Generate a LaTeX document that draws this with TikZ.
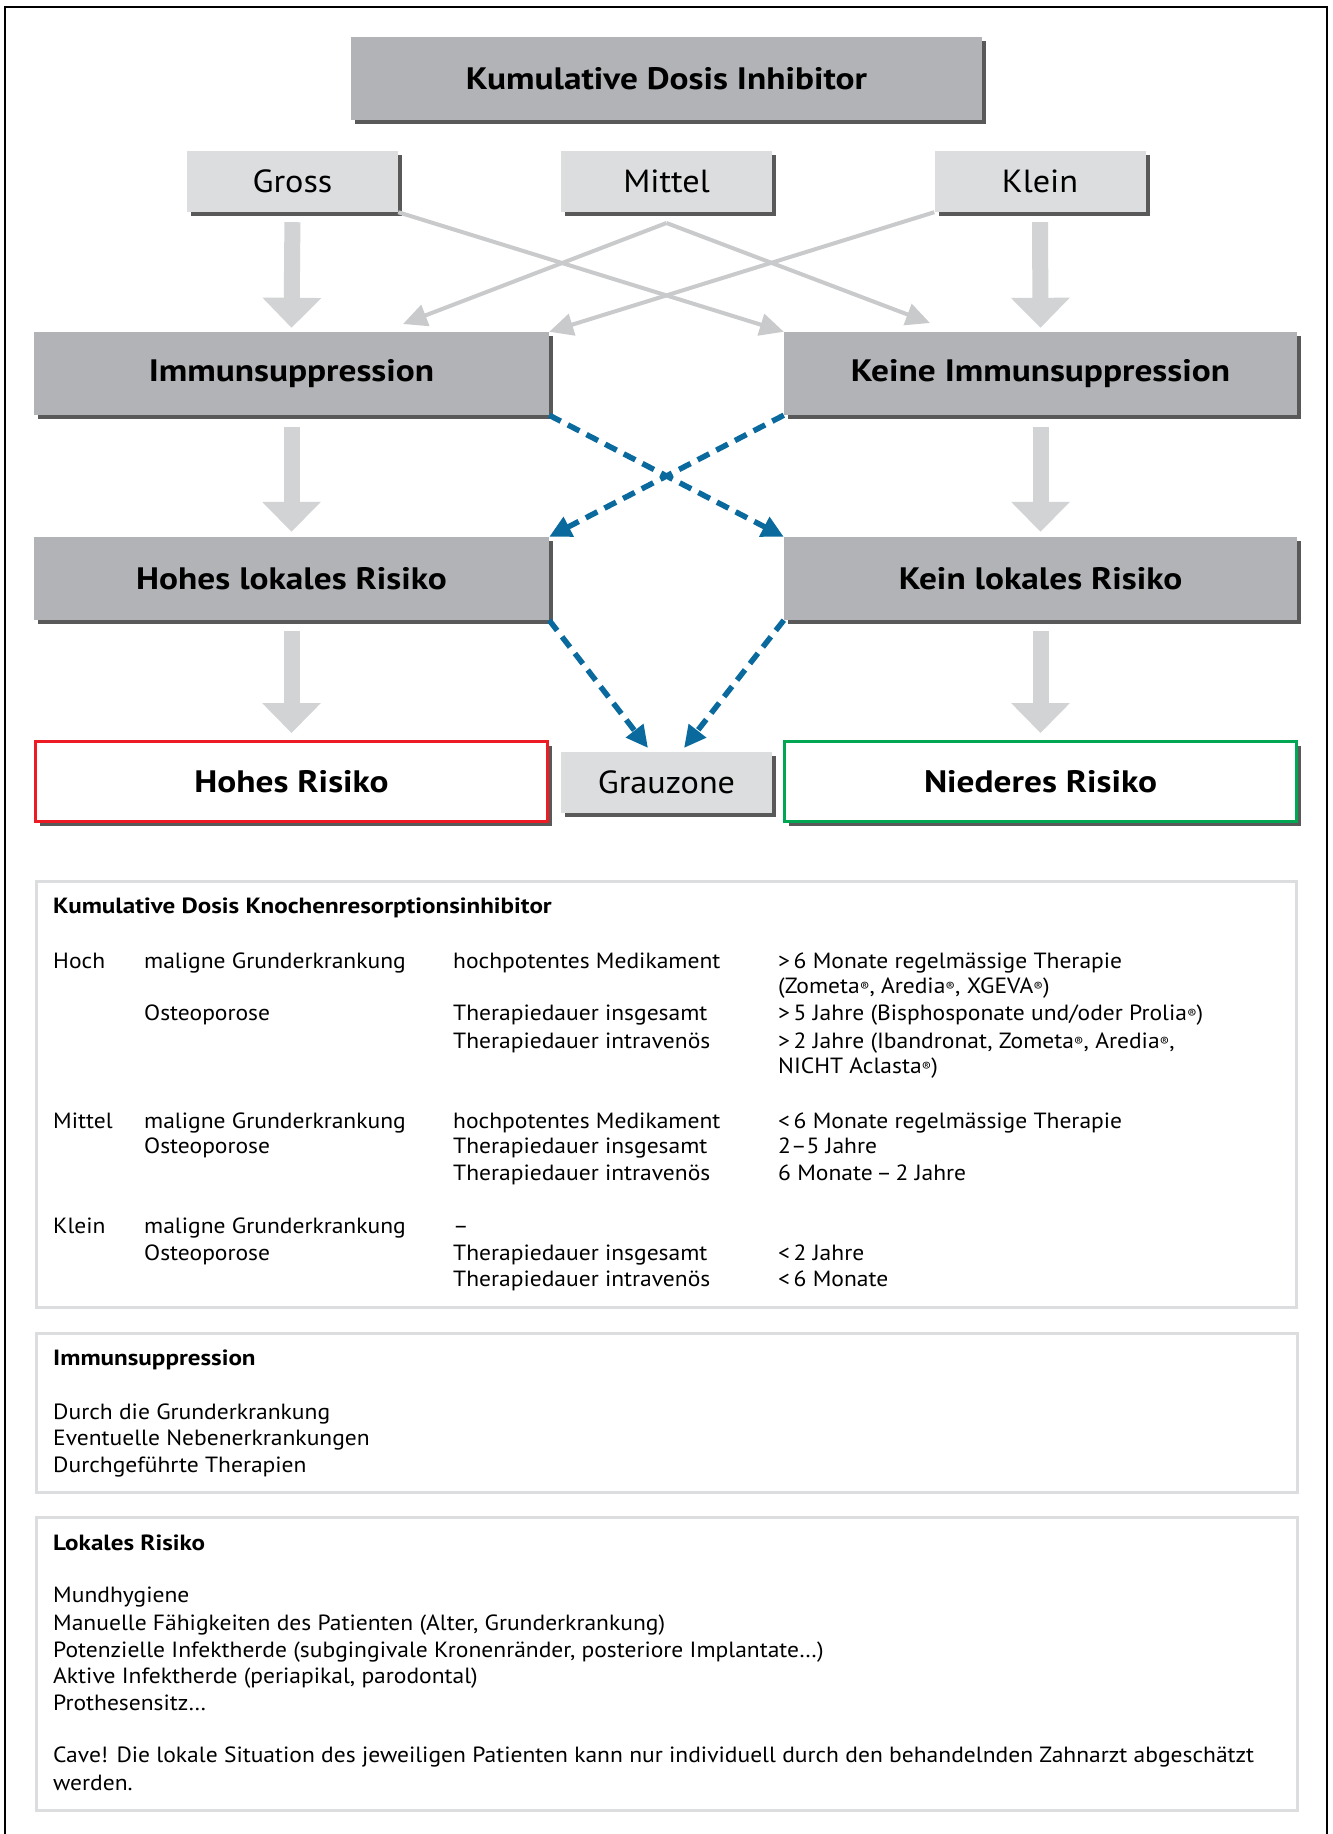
\documentclass[tikz,border=0pt]{standalone}
\usepackage{fontspec}
\setmainfont{PT Sans}[FakeStretch=1.07, BoldFeatures={FakeStretch=1.14}]
\usetikzlibrary{arrows.meta,shadows}
\definecolor{boxdark}{HTML}{B1B3B6}
\definecolor{boxlight}{HTML}{DCDDDF}
\definecolor{arrowgray}{HTML}{D1D3D4}
\definecolor{linegray}{HTML}{C9CACC}
\definecolor{dashblue}{HTML}{0A6A9E}
\definecolor{riskred}{HTML}{ED1C24}
\definecolor{riskgreen}{HTML}{00A651}
\definecolor{legendframe}{HTML}{DCDDDE}
\newcommand{\regm}{\raisebox{2pt}{\fontsize{13}{13}\selectfont ®}}
\begin{document}
\begin{tikzpicture}[x=1pt,y=-1pt,
  shadowed/.style={general shadow={fill=black!65, shadow xshift=4pt, shadow yshift=-4pt}},
  darkbox/.style={shadowed, fill=boxdark, inner sep=0, minimum width=515pt, minimum height=83pt,
    font=\fontsize{31}{36}\selectfont\bfseries},
  lightbox/.style={shadowed, fill=boxlight, inner sep=0, minimum width=211pt, minimum height=61pt,
    font=\fontsize{32}{36}\selectfont},
  riskbox/.style={shadowed, fill=white, line width=3pt, inner sep=0, minimum width=512pt, minimum height=80pt,
    font=\fontsize{31}{36}\selectfont\bfseries},
  blockarrow/.style={draw=arrowgray, line width=16pt, -{Triangle[length=30pt,width=57pt]}},
  thinarrow/.style={draw=linegray, line width=4pt, -{Triangle[length=24pt,width=22pt]}},
  dasharrow/.style={draw=dashblue, line width=5.5pt, dash pattern=on 13pt off 8pt, -{Triangle[length=22pt,width=21pt]}},
  legendbox/.style={draw=legendframe, line width=3pt},
  lt/.style={anchor=west, inner sep=0, text height=16pt, text depth=5pt, font=\fontsize{22}{27}\selectfont},
  ltb/.style={lt, font=\fontsize{22}{27}\selectfont\bfseries}
]
\useasboundingbox (0,0) rectangle (1333,1834);
\fill[white] (0,0) rectangle (1333,1834);
\draw[line width=1.5pt] (5,1834) -- (5,7) -- (1327,7) -- (1327,1834);

% nodes of the diagram
\node[darkbox, minimum width=631pt] (top) at (666.5,78.5) {Kumulative Dosis Inhibitor};
\node[lightbox] (gross) at (292.5,181.5) {Gross};
\node[lightbox] (mittel) at (666.5,181.5) {Mittel};
\node[lightbox] (klein) at (1040,181.5) {Klein};
\node[darkbox] (immun) at (291.5,373.5) {Immunsuppression};
\node[darkbox, minimum width=513pt] (keine) at (1040.5,373.5) {Keine Immunsuppression};
\node[darkbox] (hohesl) at (291.5,578.5) {Hohes lokales Risiko};
\node[darkbox, minimum width=513pt] (keinl) at (1040.5,578.5) {Kein lokales Risiko};
\node[riskbox, draw=riskred] (hohes) at (291.5,781.5) {Hohes Risiko};
\node[lightbox] (grau) at (666.5,782.5) {Grauzone};
\node[riskbox, draw=riskgreen] (nieder) at (1040.5,781.5) {Niederes Risiko};

\coordinate (mfork) at (666.5,223);
\coordinate (mleft) at (403,324);
\coordinate (mright) at (930,323);
\coordinate (g1) at (648,748);
\coordinate (g2) at (684,748);

% thin grey connectors
\draw[thinarrow] (gross.south east) -- (keine.north west);
\draw[thinarrow] (klein.south west) -- (immun.north east);
\draw[thinarrow] (mfork) -- (mleft);
\draw[thinarrow] (mfork) -- (mright);

% block arrows
\draw[blockarrow, shorten <=10pt, shorten >=4pt] (gross.south) -- (immun.north);
\draw[blockarrow, shorten <=10pt, shorten >=4pt] (klein.south) -- (keine.north);
\draw[blockarrow, shorten <=12pt, shorten >=5pt] (immun.south) -- (hohesl.north);
\draw[blockarrow, shorten <=12pt, shorten >=5pt] (keine.south) -- (keinl.north);
\draw[blockarrow, shorten <=11pt, shorten >=7pt] (hohesl.south) -- (hohes.north);
\draw[blockarrow, shorten <=11pt, shorten >=7pt] (keinl.south) -- (nieder.north);

% dashed blue connectors
\draw[dasharrow] (immun.south east) -- (keinl.north west);
\draw[dasharrow] (keine.south west) -- (hohesl.north east);
\draw[dasharrow] (hohesl.south east) -- (g1);
\draw[dasharrow] (keinl.south west) -- (g2);

% legend boxes
\draw[legendbox] (36,881) rectangle (1296,1307);
\draw[legendbox] (36,1333) rectangle (1297,1492);
\draw[legendbox] (36,1517) rectangle (1297,1810);

\node[ltb] (k0) at (53,908) {Kumulative Dosis Knochenresorptionsinhibitor};
\node[lt] (a1) at (53,963) {Hoch};
\node[lt] (a2) at (144,963) {maligne Grunderkrankung};
\node[lt] (a3) at (453,963) {hochpotentes Medikament};
\node[lt] (a4) at (778,963) {>\,6 Monate regelmässige Therapie};
\node[lt] (a5) at (778,988) {(Zometa\regm, Aredia\regm, XGEVA\regm)};
\node[lt] (a6) at (144,1015) {Osteoporose};
\node[lt] (a7) at (453,1015) {Therapiedauer insgesamt};
\node[lt] (a8) at (778,1015) {>\,5 Jahre (Bisphosponate und/oder Prolia\regm)};
\node[lt] (a9) at (453,1043) {Therapiedauer intravenös};
\node[lt] (a10) at (778,1043) {>\,2 Jahre (Ibandronat, Zometa\regm, Aredia\regm,};
\node[lt] (a11) at (778,1068) {NICHT Aclasta\regm)};

\node[lt] (b1) at (53,1123) {Mittel};
\node[lt] (b2) at (144,1123) {maligne Grunderkrankung};
\node[lt] (b3) at (453,1123) {hochpotentes Medikament};
\node[lt] (b4) at (778,1123) {<\,6 Monate regelmässige Therapie};
\node[lt] (b5) at (144,1148) {Osteoporose};
\node[lt] (b6) at (453,1148) {Therapiedauer insgesamt};
\node[lt] (b7) at (778,1148) {2–5 Jahre};
\node[lt] (b8) at (453,1175) {Therapiedauer intravenös};
\node[lt] (b9) at (778,1175) {6 Monate\,–\,2 Jahre};

\node[lt] (c1) at (53,1228) {Klein};
\node[lt] (c2) at (144,1228) {maligne Grunderkrankung};
\node[lt] (c3) at (453,1228) {–};
\node[lt] (c4) at (144,1255) {Osteoporose};
\node[lt] (c5) at (453,1255) {Therapiedauer insgesamt};
\node[lt] (c6) at (778,1255) {<\,2 Jahre};
\node[lt] (c7) at (453,1281) {Therapiedauer intravenös};
\node[lt] (c8) at (778,1281) {<\,6 Monate};

\node[ltb] (i0) at (53,1360) {Immunsuppression};
\node[lt] (i1) at (53,1414) {Durch die Grunderkrankung};
\node[lt] (i2) at (53,1440) {Eventuelle Nebenerkrankungen};
\node[lt] (i3) at (53,1467) {Durchgeführte Therapien};

\node[ltb] (r0) at (53,1545) {Lokales Risiko};
\node[lt] (r1) at (53,1597) {Mundhygiene};
\node[lt] (r2) at (53,1625) {Manuelle Fähigkeiten des Patienten (Alter, Grunderkrankung)};
\node[lt] (r3) at (53,1652) {Potenzielle Infektherde (subgingivale Kronenränder, posteriore Implantate…)};
\node[lt] (r4) at (53,1678) {Aktive Infektherde (periapikal, parodontal)};
\node[lt] (r5) at (53,1705) {Prothesensitz…};
\node[lt] (r6) at (53,1757) {Cave! Die lokale Situation des jeweiligen Patienten kann nur individuell durch den behandelnden Zahnarzt abgeschätzt};
\node[lt] (r7) at (53,1785) {werden.};
\end{tikzpicture}
\end{document}
